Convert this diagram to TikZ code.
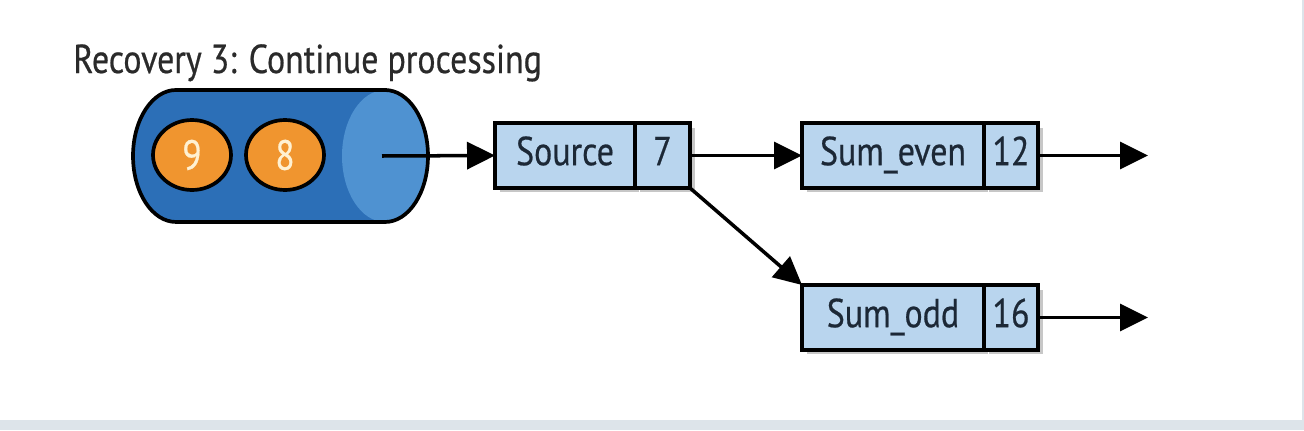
\documentclass[tikz,border=0pt]{standalone}
\usepackage{fontspec}
\setmainfont[FakeStretch=0.84, FakeBold=0.5]{PT Sans}
\usetikzlibrary{arrows.meta,shadows,shapes.geometric}

\definecolor{tankblue}{HTML}{2C6FB7}
\definecolor{capblue}{HTML}{4F92D1}
\definecolor{boxblue}{HTML}{B9D5EE}
\definecolor{ballorange}{HTML}{F0952F}
\definecolor{numcream}{HTML}{FFF1D2}
\definecolor{ink}{HTML}{1C2836}
\definecolor{titleink}{HTML}{2A2A2A}
\definecolor{bandgray}{HTML}{DDE4EA}

\begin{document}
\begin{tikzpicture}[x=0.02cm, y=0.02cm,
  box/.style={draw=black, line width=2.1pt, fill=boxblue, inner sep=0pt, outer sep=0pt,
    minimum height=1.3cm, text height=2.4ex, text depth=0.2ex, text=ink,
    font=\fontsize{23}{23}\selectfont,
    drop shadow={shadow xshift=0.09cm, shadow yshift=-0.09cm, opacity=0.22, fill=black}},
  ball/.style={ellipse, draw=black, line width=2.1pt, fill=ballorange, inner sep=0pt,
    minimum width=1.56cm, minimum height=1.4cm, text=numcream, font=\fontsize{24}{24}\selectfont},
  flow/.style={-{Triangle[length=0.56cm, width=0.54cm]}, line width=2pt}]

\useasboundingbox (0,0) rectangle (1304,430);
\fill [white] (0,0) rectangle (1304,430);
\fill [bandgray] (0,0) rectangle (1304,10);
\fill [bandgray] (1302,10) rectangle (1304,430);

\node [anchor=base west, inner sep=0pt, text=titleink, font=\fontsize{23}{23}\selectfont] (title) at (73,357) {Recovery 3: Continue processing};

% the queue
\fill [tankblue] (385,340) -- (176,340) arc [start angle=90, end angle=270, x radius=0.86cm, y radius=1.32cm] -- (385,208) arc [start angle=-90, end angle=90, x radius=0.86cm, y radius=1.32cm] -- cycle;
\fill [capblue] (385,274) ellipse [x radius=0.86cm, y radius=1.32cm];
\draw [line width=2.1pt] (385,340) -- (176,340) arc [start angle=90, end angle=270, x radius=0.86cm, y radius=1.32cm] -- (385,208) arc [start angle=-90, end angle=90, x radius=0.86cm, y radius=1.32cm] -- cycle;
\coordinate (tankout) at (382,274);

\node [ball] (nine) at (192,275) {9};
\node [ball] (eight) at (285,275) {8};

% operators
\node [box, minimum width=2.8cm] (source) at (565,274.5) {Source};
\node [box, minimum width=1.1cm] (sourceval) at (662.5,274.5) {7};

\node [box, minimum width=3.64cm] (even) at (893,274.5) {Sum\_even};
\node [box, minimum width=1.08cm] (evenval) at (1011,274.5) {12};

\node [box, minimum width=3.64cm] (odd) at (893,112.5) {Sum\_odd};
\node [box, minimum width=1.08cm] (oddval) at (1011,112.5) {16};

\coordinate (evenout) at (1148,274.5);
\coordinate (oddout) at (1148,112.5);

\draw [flow] (tankout) -- (source.west);
\draw [flow] (sourceval.east) -- (even.west);
\draw [flow] (sourceval.south east) -- (odd.north west);
\draw [flow] (evenval.east) -- (evenout);
\draw [flow] (oddval.east) -- (oddout);
\end{tikzpicture}
\end{document}
